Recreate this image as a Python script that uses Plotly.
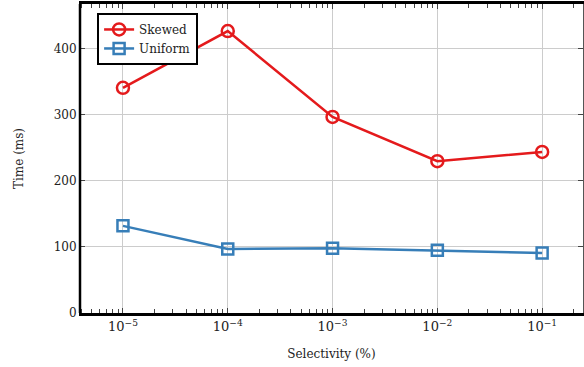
import plotly.graph_objects as go

selectivity = [1e-5, 1e-4, 1e-3, 1e-2, 1e-1]
skewed = [341, 427, 297, 230, 244]
uniform = [132, 97, 98, 95, 91]
tick_vals = [1e-5, 1e-4, 1e-3, 1e-2, 1e-1]
tick_text = ["10<sup>−5</sup>", "10<sup>−4</sup>", "10<sup>−3</sup>", "10<sup>−2</sup>", "10<sup>−1</sup>"]
y_ticks = [0, 100, 200, 300, 400]

# minor tick positions on the log axis (2..9 within each decade)
minor_vals = [m * 10.0 ** e for e in range(-6, 0) for m in range(2, 10)]

red = "#e41a1c"
blue = "#377eb8"
font = "DejaVu Serif"

fig = go.Figure()
fig.add_trace(go.Scatter(x=selectivity, y=skewed, name="Skewed", mode="lines+markers",
                         line=dict(color=red, width=2.5),
                         marker=dict(symbol="circle-open", size=12, color=red, line=dict(width=2.5, color=red))))
fig.add_trace(go.Scatter(x=selectivity, y=uniform, name="Uniform", mode="lines+markers",
                         line=dict(color=blue, width=2.5),
                         marker=dict(symbol="square-open", size=11, color=blue, line=dict(width=2.5, color=blue))))

fig.update_layout(
    width=584, height=367,
    margin=dict(l=80, r=1, t=4, b=54),
    plot_bgcolor="white", paper_bgcolor="white",
    font=dict(family=font, size=12, color="#222"),
    showlegend=True,
    legend=dict(x=0.034, y=0.971, xanchor="left", yanchor="top",
                bordercolor="black", borderwidth=2, bgcolor="white",
                font=dict(family=font, size=12), tracegroupgap=0,
                itemwidth=30),
    shapes=[dict(type="line", xref="paper", yref="paper", x0=0, x1=0, y0=0, y1=1,
                 line=dict(color="black", width=2.5), layer="above")],
)
fig.update_xaxes(type="log", range=[-5.41, -0.61],
                 tickvals=tick_vals, ticktext=tick_text,
                 showline=True, linecolor="black", linewidth=2.5, mirror="allticks",
                 ticks="inside", ticklen=5, tickcolor="#444",
                 showgrid=True, gridcolor="#cccccc", gridwidth=1,
                 minor=dict(ticks="inside", ticklen=4, tickcolor="#444", showgrid=False,
                            tickvals=minor_vals),
                 zeroline=False,
                 title=dict(text="Selectivity (%)", font=dict(family=font, size=12), standoff=17),
                 tickfont=dict(family=font, size=13))
fig.update_yaxes(range=[0, 468], tickvals=y_ticks,
                 showline=True, linecolor="#555", linewidth=1, mirror="ticks",
                 ticks="inside", ticklen=5, tickcolor="#444",
                 showgrid=True, gridcolor="#cccccc", gridwidth=1,
                 zeroline=False,
                 title=dict(text="Time (ms)", font=dict(family=font, size=12), standoff=27),
                 tickfont=dict(family=font, size=12))

fig.write_html("out.html", config=dict(displayModeBar=False),
               post_script="document.body.style.margin='0';document.body.style.overflow='hidden';")
